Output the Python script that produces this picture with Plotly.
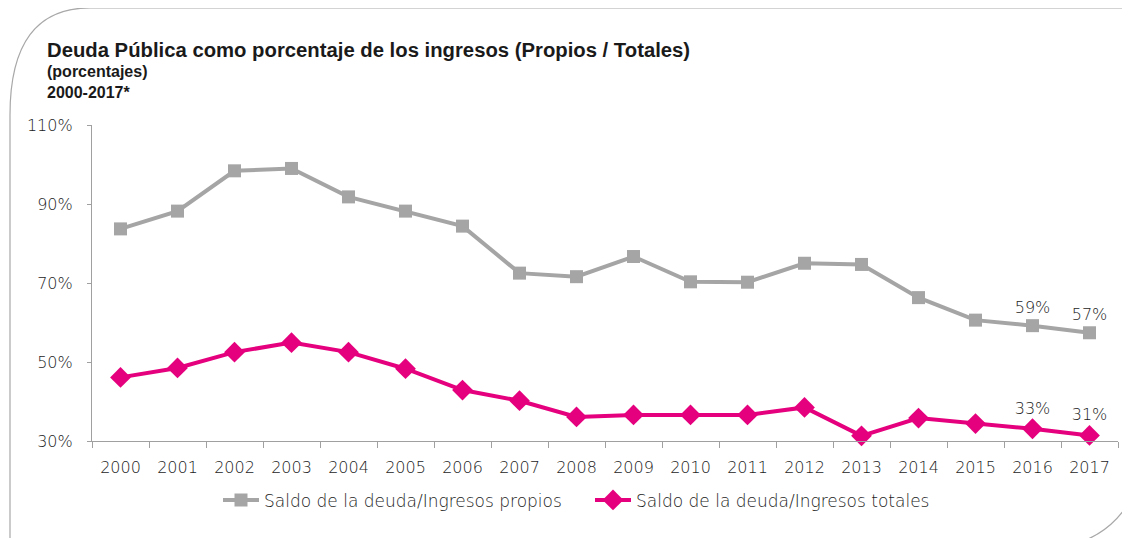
import plotly.graph_objects as go

years = [str(y) for y in range(2000, 2018)]
propios = [83.7, 88.2, 98.4, 99.0, 91.8, 88.2, 84.4, 72.5, 71.6, 76.7, 70.3, 70.2, 75.0, 74.7, 66.3, 60.6, 59.2, 57.4]
totales = [46.1, 48.5, 52.5, 54.9, 52.5, 48.3, 42.9, 40.2, 36.1, 36.6, 36.6, 36.6, 38.5, 31.3, 35.8, 34.4, 33.1, 31.4]
label_years = ["2016", "2017"]
y_ticks = [30, 50, 70, 90, 110]
y_ticktext = [f"{v}%" for v in y_ticks]

W, H = 1130, 538
OFF = 8  # page offset of the figure inside the browser window
L, R, T, B = 92, 1118, 125, 440.7  # plot area in window pixels

def px(x):
    return (x - L) / (R - L)

def py(y):
    return (B - y) / (B - T)

def labels(vals):
    return [f"{v:.0f}%" if yr in label_years else "" for yr, v in zip(years, vals)]

GRAY = "#A5A5A5"
PINK = "#E5007D"
TXT = "#1c1c1c"
FONT = "DejaVu Sans"
tfont = dict(family=FONT, size=16, color=TXT, weight=200)
lfont = dict(family=FONT, size=17, color=TXT, weight=200)

fig = go.Figure()
fig.add_trace(go.Scatter(
    x=years, y=propios, name="Saldo de la deuda/Ingresos propios",
    mode="lines+markers+text", text=labels(propios), textposition="top center",
    textfont=tfont,
    line=dict(color=GRAY, width=4), marker=dict(symbol="square", size=13, color=GRAY),
    cliponaxis=False))
fig.add_trace(go.Scatter(
    x=years, y=totales, name="Saldo de la deuda/Ingresos totales",
    mode="lines+markers+text", text=labels(totales), textposition="top center",
    textfont=tfont,
    line=dict(color=PINK, width=4), marker=dict(symbol="diamond", size=16, color=PINK),
    cliponaxis=False))

# decorative rounded frame
frame = (f"M {px(10)},{py(545)} L {px(10)},{py(115)} Q {px(10)},{py(8)} {px(90)},{py(8)} "
         f"L {px(1135)},{py(8)}")
frame2 = f"M {px(1150)},{py(430)} Q {px(1140)},{py(540)} {px(1050)},{py(548)}"
shapes = [
    dict(type="path", path=frame, xref="paper", yref="paper", line=dict(color="#A8A8A8", width=1.2)),
    dict(type="path", path=frame2, xref="paper", yref="paper", line=dict(color="#A8A8A8", width=1.2)),
]

tit = "Liberation Sans"
annotations = [
    dict(text="<b>Deuda Pública como porcentaje de los ingresos (Propios / Totales)</b>",
         x=px(45), y=py(50), xref="paper", yref="paper", xanchor="left", yanchor="middle",
         showarrow=False, font=dict(family=tit, size=20.3, color="#1a1a1a")),
    dict(text="<b>(porcentajes)</b>",
         x=px(45), y=py(72), xref="paper", yref="paper", xanchor="left", yanchor="middle",
         showarrow=False, font=dict(family=tit, size=16, color="#1a1a1a")),
    dict(text="<b>2000-2017*</b>",
         x=px(45), y=py(93), xref="paper", yref="paper", xanchor="left", yanchor="middle",
         showarrow=False, font=dict(family=tit, size=16, color="#1a1a1a")),
]

fig.update_layout(
    width=W, height=H,
    margin=dict(l=L - OFF, r=W - (R - OFF), t=T - OFF, b=H - (B - OFF), pad=0),
    paper_bgcolor="white", plot_bgcolor="white",
    showlegend=True,
    legend=dict(orientation="h", x=px(218), y=py(500), xanchor="left", yanchor="middle",
                font=lfont, itemwidth=36, tracegroupgap=0, entrywidth=321, entrywidthmode="pixels"),
    shapes=shapes, annotations=annotations,
    xaxis=dict(type="category", showgrid=False, showline=True, linecolor="#A0A0A0", linewidth=1.2,
               ticks="outside", ticklen=6, tickcolor="#A0A0A0", tickson="boundaries",
               ticklabelstandoff=12,
               tickfont=tfont, range=[-0.5, 17.5], fixedrange=True),
    yaxis=dict(range=[30, 110], tickvals=y_ticks, ticktext=y_ticktext, showgrid=False, zeroline=False,
               showline=True, linecolor="#A0A0A0", linewidth=1.2, ticks="outside", ticklen=4,
               ticklabelstandoff=11,
               tickcolor="#A0A0A0", tickfont=tfont),
)

fig.write_html("out.html")
